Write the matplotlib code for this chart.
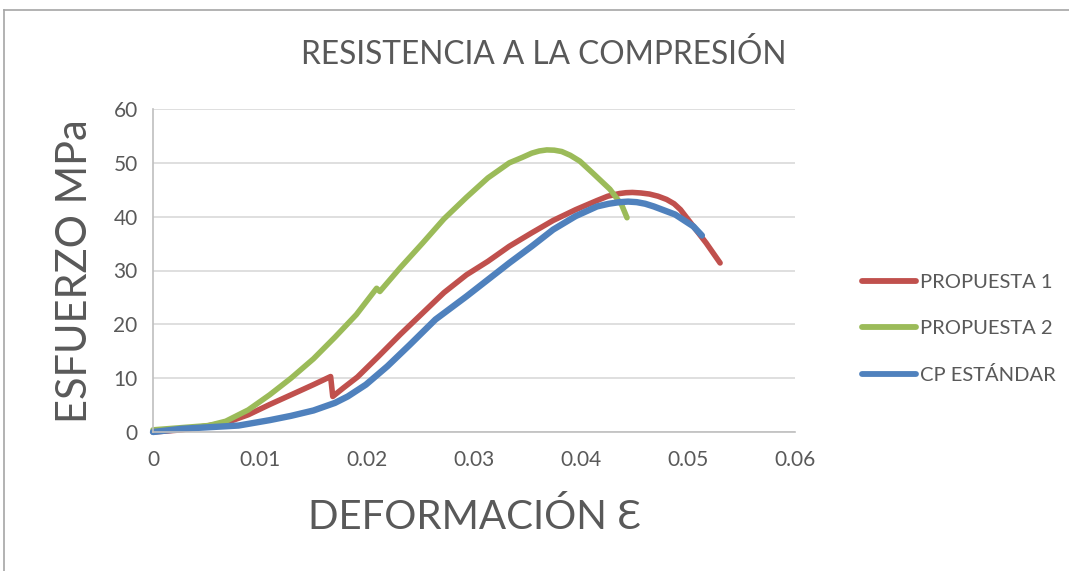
import matplotlib
matplotlib.use("Agg")
import matplotlib.pyplot as plt
from matplotlib.lines import Line2D

plt.rcParams['font.family'] = ['Lato', 'DejaVu Sans']

title = "RESISTENCIA A LA COMPRESIÓN"
xlabel = "DEFORMACIÓN Ɛ"
ylabel = "ESFUERZO MPa"
series_names = ["PROPUESTA 1", "PROPUESTA 2", "CP ESTÁNDAR"]
colors = ["#c0504d", "#9bbb59", "#4f81bd"]

p1_x = [0.0, 0.0027, 0.0068, 0.0089, 0.0109, 0.0129, 0.015, 0.0166, 0.0168, 0.0178,
        0.0191, 0.0211, 0.0231, 0.0252, 0.0272, 0.0293, 0.0313, 0.0333, 0.0354, 0.0374,
        0.0395, 0.0415, 0.0425, 0.0436, 0.0442, 0.0448, 0.0456, 0.0464, 0.0472, 0.048,
        0.0487, 0.0493, 0.0505, 0.0517, 0.053]
p1_y = [0.0, 0.4, 1.7, 3.2, 5.1, 6.9, 8.8, 10.3, 6.6, 8.2,
        10.2, 14.1, 18.1, 22.1, 25.9, 29.2, 31.7, 34.5, 37.0, 39.3,
        41.3, 43.0, 43.8, 44.3, 44.45, 44.5, 44.4, 44.2, 43.8, 43.2,
        42.4, 41.3, 38.2, 35.1, 31.4]

p2_x = [0.0, 0.0052, 0.0068, 0.0089, 0.0109, 0.0129, 0.015, 0.017, 0.019, 0.0209,
        0.0212, 0.0231, 0.0252, 0.0272, 0.0293, 0.0313, 0.0333, 0.0345, 0.0354, 0.0361,
        0.0368, 0.0375, 0.0382, 0.039, 0.0399, 0.0411, 0.0427, 0.0438, 0.0443]
p2_y = [0.4, 1.2, 2.0, 4.1, 6.9, 10.0, 13.6, 17.6, 21.8, 26.7,
        26.1, 30.5, 35.1, 39.6, 43.6, 47.2, 50.0, 51.0, 51.8, 52.2,
        52.4, 52.35, 52.1, 51.4, 50.3, 48.1, 45.1, 42.2, 39.8]

cp_x = [0.0, 0.0027, 0.008, 0.0109, 0.0129, 0.015, 0.017, 0.0182, 0.0199, 0.0219,
        0.024, 0.0264, 0.0293, 0.0313, 0.0333, 0.0354, 0.0374, 0.0395, 0.0415, 0.0426,
        0.0436, 0.0444, 0.0452, 0.046, 0.0468, 0.0488, 0.0505, 0.0513]
cp_y = [0.0, 0.6, 1.2, 2.2, 3.0, 4.0, 5.4, 6.6, 8.8, 12.2,
        16.2, 20.9, 25.2, 28.3, 31.4, 34.5, 37.6, 40.1, 41.9, 42.4,
        42.7, 42.8, 42.7, 42.4, 41.9, 40.4, 38.2, 36.5]

x_ticks = [0, 0.01, 0.02, 0.03, 0.04, 0.05, 0.06]
x_ticklabels = ["0", "0.01", "0.02", "0.03", "0.04", "0.05", "0.06"]
y_ticks = [0, 10, 20, 30, 40, 50, 60]

W, H = 1069, 571
fig = plt.figure(figsize=(W / 100, H / 100), dpi=100)
ax = fig.add_axes([153 / W, 1 - 432 / H, (795 - 153) / W, (432 - 109) / H])

txt = "#595959"
widths = [4.0, 4.0, 4.6]
for xs, ys, c, w in zip([p1_x, p2_x, cp_x], [p1_y, p2_y, cp_y], colors, widths):
    ax.plot(xs, ys, color=c, lw=w, solid_capstyle='round', solid_joinstyle='round', clip_on=False)

ax.set_xlim(0, 0.06)
ax.set_ylim(0, 60)
ax.set_xticks(x_ticks)
ax.set_xticklabels(x_ticklabels)
ax.set_yticks(y_ticks)
ax.tick_params(length=0, labelsize=15, colors=txt)
ax.tick_params(axis='x', pad=13)
ax.tick_params(axis='y', pad=11)
ax.grid(axis='y', color="#d9d9d9", lw=1.2)
ax.set_axisbelow(True)
for s in ['top', 'right']:
    ax.spines[s].set_visible(False)
for s in ['left', 'bottom']:
    ax.spines[s].set_color("#bfbfbf")
    ax.spines[s].set_linewidth(1.2)

fig.text(544 / W, 1 - 54 / H, title, ha='center', va='center', fontsize=22.8, color=txt)
fig.text(475 / W, 1 - 517 / H, xlabel, ha='center', va='center', fontsize=29, color=txt)
fig.text(75 / W, 1 - 271 / H, ylabel, ha='center', va='center', fontsize=30, color=txt, rotation=90)

handles = [Line2D([0], [0], color=c, lw=4.2, solid_capstyle='round') for c in colors]
leg = fig.legend(handles, series_names, loc='center left', bbox_to_anchor=(852 / W, 1 - 329 / H),
                 frameon=False, fontsize=14.5, handlelength=2.7, handletextpad=0.2, labelspacing=1.42,
                 borderpad=0)
for t in leg.get_texts():
    t.set_color(txt)

fig.add_artist(Line2D([4 / W, 4 / W], [0, 1 - 10 / H], color="#a6a6a6", lw=1.2))
fig.add_artist(Line2D([4 / W, 1], [1 - 10 / H, 1 - 10 / H], color="#a6a6a6", lw=1.2))

fig.savefig("out.png", dpi=100)
